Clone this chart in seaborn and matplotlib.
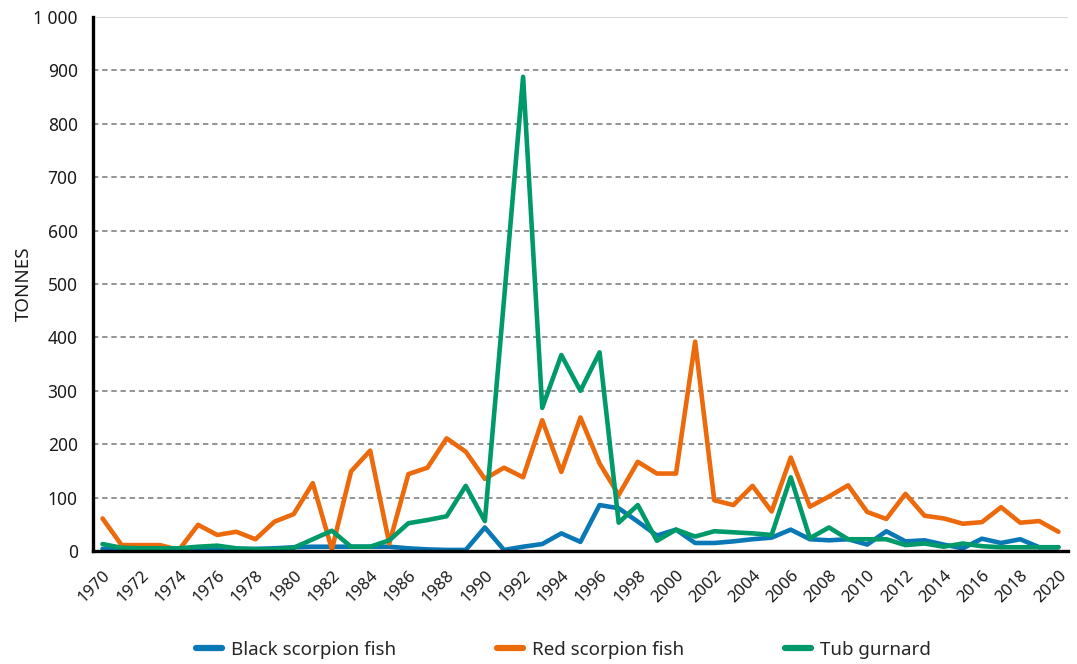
import numpy as np
import pandas as pd
import matplotlib
matplotlib.use("Agg")
import matplotlib.pyplot as plt
import seaborn as sns
from matplotlib.ticker import FuncFormatter, MultipleLocator

# annual landings, tonnes, 1970-2020
years = list(range(1970, 2021))

black_scorpion = [4, 3, 3, 3, 3, 4, 5, 4, 4, 5,
                  7, 8, 8, 8, 8, 8, 5, 3, 2, 2,
                  44, 2, 8, 13, 33, 17, 86, 80, 55, 29,
                  40, 15, 15, 18, 22, 25, 40, 22, 20, 22,
                  12, 37, 18, 20, 12, 5, 23, 15, 22, 7,
                  7]
red_scorpion = [61, 11, 11, 11, 2, 49, 30, 36, 22, 55,
                69, 127, 3, 149, 188, 14, 144, 156, 211, 186,
                135, 156, 138, 245, 148, 250, 164, 105, 167, 145,
                145, 392, 95, 86, 122, 74, 175, 83, 102, 123,
                73, 60, 107, 66, 61, 51, 54, 82, 53, 56,
                36]
tub_gurnard = [13, 6, 5, 5, 5, 8, 10, 5, 3, 3,
               6, 22, 38, 8, 8, 20, 52, 58, 65, 122,
               56, 470, 888, 268, 367, 300, 372, 53, 86, 19,
               40, 27, 37, 35, 33, 30, 138, 24, 44, 22,
               22, 22, 11, 14, 8, 14, 9, 7, 7, 7,
               7]

species = ["Black scorpion fish", "Red scorpion fish", "Tub gurnard"]
colours = ["#0a78b4", "#ec690c", "#009a6a"]
year_labels = [str(y) for y in years[::2]]

df = pd.DataFrame({
    "year": years * 3,
    "tonnes": black_scorpion + red_scorpion + tub_gurnard,
    "species": [species[0]] * len(years) + [species[1]] * len(years) + [species[2]] * len(years),
})

sns.set_theme(style="white")
plt.rcParams["font.family"] = ["Noto Sans", "DejaVu Sans"]

fig = plt.figure(figsize=(10.77, 6.64), dpi=100)
ax = fig.add_axes([0.0863, 0.1702, 0.9053, 0.8042])

sns.lineplot(data=df, x="year", y="tonnes", hue="species", hue_order=species,
             palette=colours, linewidth=3.3, ax=ax, legend=False)

ax.set_xlim(years[0] - 0.5, years[-1] + 0.5)
ax.set_ylim(0, 1000)

# dashed grid
ax.yaxis.set_major_locator(MultipleLocator(100))
for v in range(100, 1000, 100):
    ax.axhline(v, color="#777777", lw=1.1, ls=(0, (3.5, 2.5)), zorder=0)
ax.axhline(1000, color="#d0d0d0", lw=1.2, zorder=0)

ax.yaxis.set_major_formatter(FuncFormatter(lambda v, p: f"{int(v):,}".replace(",", " ")))
ax.tick_params(axis="y", length=9, width=1.1, color="#777777", labelsize=12.5, pad=2,
               labelcolor="#1a1a1a")

# category style x axis: boundary ticks, labels every other year
ax.set_xticks(years[::2])
ax.set_xticklabels(year_labels, rotation=45, ha="right", rotation_mode="anchor")
ax.set_xticks(np.arange(years[0] - 0.5, years[-1] + 1), minor=True)
ax.tick_params(axis="x", which="major", length=0, labelsize=12, pad=12, labelcolor="#1a1a1a")
ax.tick_params(axis="x", which="minor", length=10, width=2.2, color="black", direction="out")

for side in ["top", "right"]:
    ax.spines[side].set_visible(False)
ax.spines["left"].set_linewidth(2.4)
ax.spines["bottom"].set_linewidth(2.4)
ax.spines["left"].set_color("black")
ax.spines["bottom"].set_color("black")

ax.set_xlabel("")
ax.set_ylabel("TONNES", fontsize=13.5, color="#1a1a1a")
ax.yaxis.set_label_coords(-0.062, 0.5)

handles = [plt.Line2D([], [], color=c, lw=4.5) for c in colours]
fig.legend(handles, species, loc="center", bbox_to_anchor=(0.523, 0.021), ncol=3,
           frameon=False, fontsize=13.5, handlelength=1.4, handletextpad=0.45,
           columnspacing=5.4)

fig.savefig("out.png", dpi=100)
